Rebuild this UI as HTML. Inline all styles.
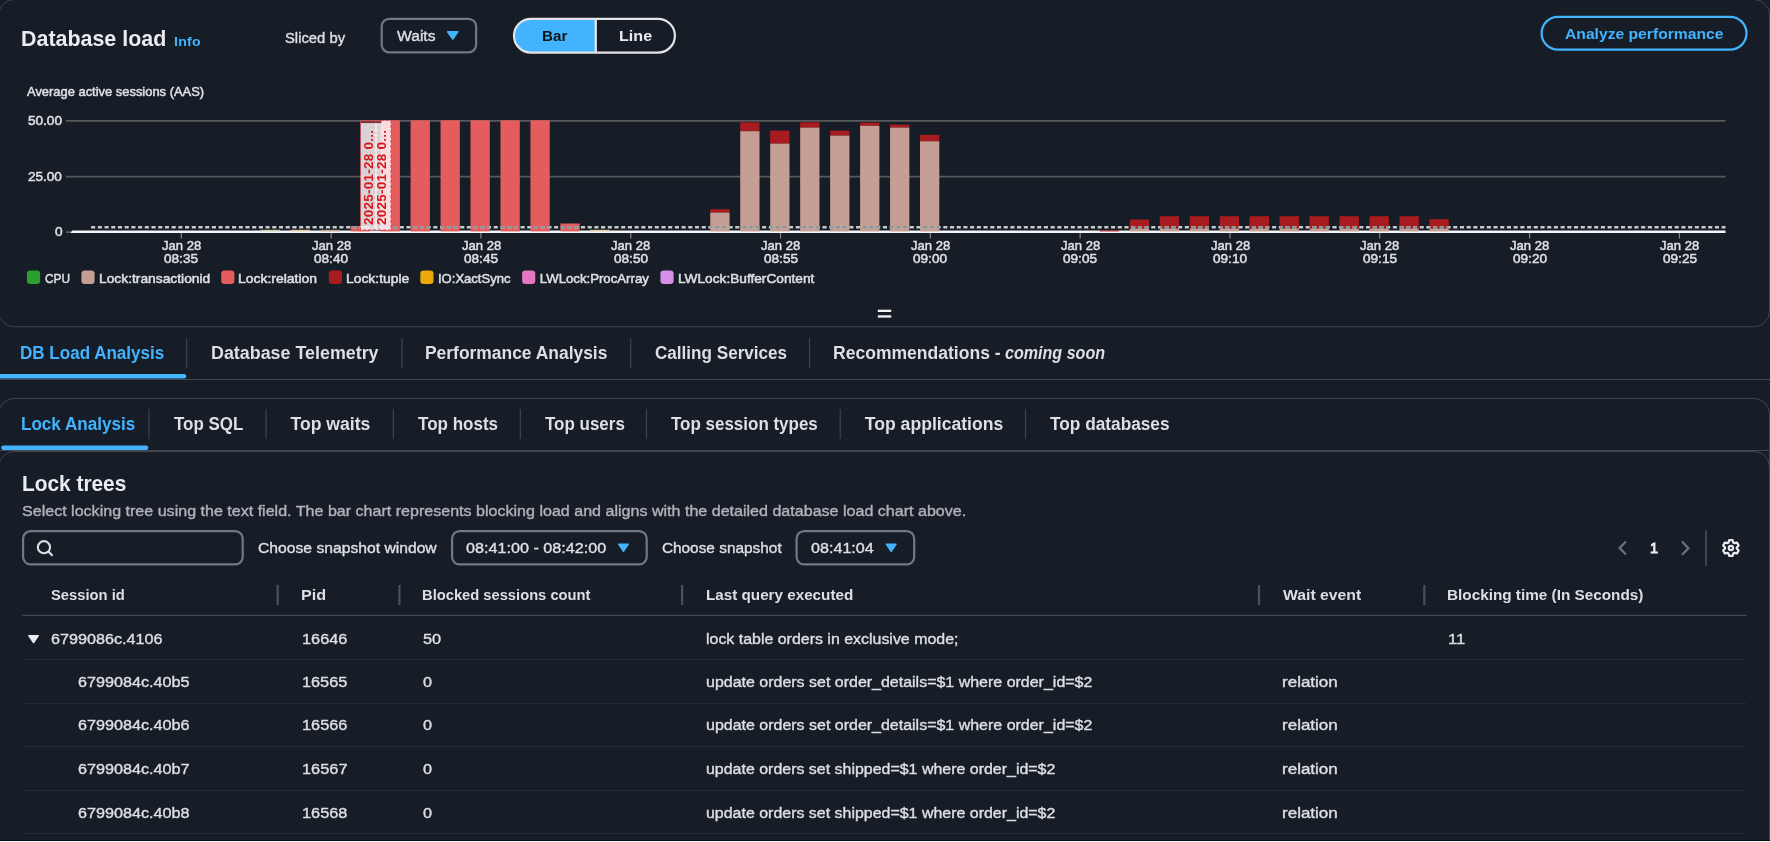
<!DOCTYPE html>
<html lang="en"><head><meta charset="utf-8"><title>Database load</title>
<style>
html,body{margin:0;padding:0}
body{width:1770px;height:842px;overflow:hidden;background:#161d26;font-family:"Liberation Sans", sans-serif;position:relative;color:#dedee3}
.t{position:absolute;white-space:pre;line-height:1;transform-origin:0 50%;-webkit-text-stroke:0.4px currentColor}
.cl{-webkit-text-stroke:0.55px currentColor}
.abs{position:absolute}
.g{display:contents}
.textlayer{position:absolute;left:0;top:0;width:1770px;height:842px;will-change:transform}
.box{position:absolute;box-sizing:border-box;border-radius:16px}
.chart{position:absolute;left:0;top:0}
.rot{transform-origin:0 0;transform:rotate(-90deg);font-size:13.5px;font-weight:700;color:#d9151c;letter-spacing:0.25px;-webkit-text-stroke:0}
</style></head><body>
<section class="box" style="left:-1px;top:-1px;width:1771px;height:328px"></section>
<section class="box" style="left:-1px;top:398px;width:1771px;height:500px"></section>
<section class="box" style="left:-1px;top:451px;width:1771px;height:500px"></section>
<svg class="chart" width="1770" height="330" viewBox="0 0 1770 330"><line x1="66" x2="1725.5" y1="120.9" y2="120.9" stroke="#58595b" stroke-width="1.7"/>
<line x1="66" x2="1725.5" y1="176.6" y2="176.6" stroke="#58595b" stroke-width="1.7"/>
<line x1="66" x2="1725.5" y1="232.2" y2="232.2" stroke="#58595b" stroke-width="1.7"/>
<line x1="181.30" x2="181.30" y1="232" y2="238.5" stroke="#858587" stroke-width="1.2"/>
<line x1="331.11" x2="331.11" y1="232" y2="238.5" stroke="#858587" stroke-width="1.2"/>
<line x1="480.92" x2="480.92" y1="232" y2="238.5" stroke="#858587" stroke-width="1.2"/>
<line x1="630.73" x2="630.73" y1="232" y2="238.5" stroke="#858587" stroke-width="1.2"/>
<line x1="780.54" x2="780.54" y1="232" y2="238.5" stroke="#858587" stroke-width="1.2"/>
<line x1="930.35" x2="930.35" y1="232" y2="238.5" stroke="#858587" stroke-width="1.2"/>
<line x1="1080.16" x2="1080.16" y1="232" y2="238.5" stroke="#858587" stroke-width="1.2"/>
<line x1="1229.97" x2="1229.97" y1="232" y2="238.5" stroke="#858587" stroke-width="1.2"/>
<line x1="1379.78" x2="1379.78" y1="232" y2="238.5" stroke="#858587" stroke-width="1.2"/>
<line x1="1529.59" x2="1529.59" y1="232" y2="238.5" stroke="#858587" stroke-width="1.2"/>
<line x1="1679.40" x2="1679.40" y1="232" y2="238.5" stroke="#858587" stroke-width="1.2"/>
<path d="M70.3 233 L72.3 230.4 L1725.5 230.4 L1725.5 233 Z" fill="#f4f4f4"/>
<rect x="350.65" y="226.00" width="19.30" height="5.40" fill="#e45c5d" />
<rect x="380.62" y="120.30" width="19.30" height="111.10" fill="#e45c5d" />
<rect x="410.59" y="120.30" width="19.30" height="111.10" fill="#e45c5d" />
<rect x="440.55" y="120.30" width="19.30" height="111.10" fill="#e45c5d" />
<rect x="470.52" y="120.30" width="19.30" height="111.10" fill="#e45c5d" />
<rect x="500.49" y="120.30" width="19.30" height="111.10" fill="#e45c5d" />
<rect x="530.45" y="120.30" width="19.30" height="111.10" fill="#e45c5d" />
<rect x="560.42" y="223.50" width="19.30" height="7.90" fill="#e45c5d" />
<rect x="590.39" y="229.80" width="19.30" height="1.60" fill="#e3cba3" />
<rect x="260.75" y="229.80" width="19.30" height="1.60" fill="#c3d3ac" />
<rect x="290.72" y="229.80" width="19.30" height="1.60" fill="#e3cba3" />
<rect x="320.69" y="229.80" width="19.30" height="1.60" fill="#c4a688" />
<rect x="710.26" y="209.20" width="19.30" height="3.40" fill="#a81b1e" />
<rect x="710.26" y="212.60" width="19.30" height="18.80" fill="#c59e94" />
<rect x="740.22" y="122.30" width="19.30" height="8.90" fill="#a81b1e" />
<rect x="740.22" y="131.20" width="19.30" height="100.20" fill="#c59e94" />
<rect x="770.19" y="130.60" width="19.30" height="13.00" fill="#a81b1e" />
<rect x="770.19" y="143.60" width="19.30" height="87.80" fill="#c59e94" />
<rect x="800.16" y="122.30" width="19.30" height="5.30" fill="#a81b1e" />
<rect x="800.16" y="127.60" width="19.30" height="103.80" fill="#c59e94" />
<rect x="830.12" y="130.60" width="19.30" height="5.00" fill="#a81b1e" />
<rect x="830.12" y="135.60" width="19.30" height="95.80" fill="#c59e94" />
<rect x="860.09" y="122.60" width="19.30" height="3.20" fill="#a81b1e" />
<rect x="860.09" y="125.80" width="19.30" height="105.60" fill="#c59e94" />
<rect x="890.06" y="124.60" width="19.30" height="3.00" fill="#a81b1e" />
<rect x="890.06" y="127.60" width="19.30" height="103.80" fill="#c59e94" />
<rect x="920.02" y="134.90" width="19.30" height="6.40" fill="#a81b1e" />
<rect x="920.02" y="141.30" width="19.30" height="90.10" fill="#c59e94" />
<rect x="1099.83" y="230.30" width="19.30" height="1.10" fill="#a81b1e" />
<rect x="1129.79" y="219.50" width="19.30" height="9.10" fill="#a81b1e" />
<rect x="1129.79" y="228.60" width="19.30" height="2.80" fill="#c59e94" />
<rect x="1159.76" y="216.20" width="19.30" height="12.40" fill="#a81b1e" />
<rect x="1159.76" y="228.60" width="19.30" height="2.80" fill="#c59e94" />
<rect x="1189.73" y="216.20" width="19.30" height="12.40" fill="#a81b1e" />
<rect x="1189.73" y="228.60" width="19.30" height="2.80" fill="#c59e94" />
<rect x="1219.69" y="216.20" width="19.30" height="12.40" fill="#a81b1e" />
<rect x="1219.69" y="228.60" width="19.30" height="2.80" fill="#c59e94" />
<rect x="1249.66" y="216.20" width="19.30" height="12.40" fill="#a81b1e" />
<rect x="1249.66" y="228.60" width="19.30" height="2.80" fill="#c59e94" />
<rect x="1279.63" y="216.20" width="19.30" height="12.40" fill="#a81b1e" />
<rect x="1279.63" y="228.60" width="19.30" height="2.80" fill="#c59e94" />
<rect x="1309.60" y="216.20" width="19.30" height="12.40" fill="#a81b1e" />
<rect x="1309.60" y="228.60" width="19.30" height="2.80" fill="#c59e94" />
<rect x="1339.56" y="216.20" width="19.30" height="12.40" fill="#a81b1e" />
<rect x="1339.56" y="228.60" width="19.30" height="2.80" fill="#c59e94" />
<rect x="1369.53" y="216.20" width="19.30" height="12.40" fill="#a81b1e" />
<rect x="1369.53" y="228.60" width="19.30" height="2.80" fill="#c59e94" />
<rect x="1399.50" y="216.20" width="19.30" height="12.40" fill="#a81b1e" />
<rect x="1399.50" y="228.60" width="19.30" height="2.80" fill="#c59e94" />
<rect x="1429.46" y="219.20" width="19.30" height="9.40" fill="#a81b1e" />
<rect x="1429.46" y="228.60" width="19.30" height="2.80" fill="#c59e94" />
<line x1="91.1" x2="1725.5" y1="227.25" y2="227.25" stroke="#c8c8c8" stroke-width="2.4" stroke-dasharray="4.1 2.61"/>
<clipPath id="barclip"><rect x="350.65" y="100" width="19.3" height="140"/><rect x="380.62" y="100" width="19.3" height="140"/><rect x="410.59" y="100" width="19.3" height="140"/><rect x="440.55" y="100" width="19.3" height="140"/><rect x="470.52" y="100" width="19.3" height="140"/><rect x="500.49" y="100" width="19.3" height="140"/><rect x="530.45" y="100" width="19.3" height="140"/><rect x="560.42" y="100" width="19.3" height="140"/><rect x="710.26" y="100" width="19.3" height="140"/><rect x="740.22" y="100" width="19.3" height="140"/><rect x="770.19" y="100" width="19.3" height="140"/><rect x="800.16" y="100" width="19.3" height="140"/><rect x="830.12" y="100" width="19.3" height="140"/><rect x="860.09" y="100" width="19.3" height="140"/><rect x="890.06" y="100" width="19.3" height="140"/><rect x="920.02" y="100" width="19.3" height="140"/><rect x="1129.79" y="100" width="19.3" height="140"/><rect x="1159.76" y="100" width="19.3" height="140"/><rect x="1189.73" y="100" width="19.3" height="140"/><rect x="1219.69" y="100" width="19.3" height="140"/><rect x="1249.66" y="100" width="19.3" height="140"/><rect x="1279.63" y="100" width="19.3" height="140"/><rect x="1309.60" y="100" width="19.3" height="140"/><rect x="1339.56" y="100" width="19.3" height="140"/><rect x="1369.53" y="100" width="19.3" height="140"/><rect x="1399.50" y="100" width="19.3" height="140"/><rect x="1429.46" y="100" width="19.3" height="140"/></clipPath>
<line x1="91.1" x2="1725.5" y1="227.25" y2="227.25" stroke="#87999a" stroke-width="2.4" stroke-dasharray="4.1 2.61" clip-path="url(#barclip)"/>
<rect x="360.50" y="120.50" width="30.50" height="109.50" fill="rgba(255,246,249,0.84)" />
<rect x="374.40" y="120.50" width="3.20" height="109.50" fill="rgba(255,255,255,0.5)" />
<rect x="360.50" y="120.50" width="20.80" height="2.60" fill="rgba(110,25,35,0.85)" />
<rect x="360.5" y="120.5" width="30.5" height="109.5" fill="none" stroke="#e0474c" stroke-width="1" stroke-dasharray="3 2"/>
<path d="M374.5 121V230M377.5 121V230" fill="none" stroke="#e0474c" stroke-opacity="0.25" stroke-width="1" stroke-dasharray="3 2"/>
<rect x="26.9" y="270.6" width="13.2" height="13.4" rx="3.3" fill="#2ca02c"/>
<rect x="81.4" y="270.6" width="13.2" height="13.4" rx="3.3" fill="#c59e94"/>
<rect x="221.2" y="270.6" width="13.2" height="13.4" rx="3.3" fill="#e45c5d"/>
<rect x="328.8" y="270.6" width="13.2" height="13.4" rx="3.3" fill="#a81b1e"/>
<rect x="420.3" y="270.6" width="13.2" height="13.4" rx="3.3" fill="#eda80a"/>
<rect x="522.1" y="270.6" width="13.2" height="13.4" rx="3.3" fill="#e377c2"/>
<rect x="660.4" y="270.6" width="13.2" height="13.4" rx="3.3" fill="#d590e8"/>
<rect x="877.8" y="309.7" width="13.4" height="2.3" fill="#f4f4f6"/><rect x="877.8" y="315.3" width="13.4" height="2.3" fill="#f4f4f6"/></svg>
<svg class="chart" width="1770" height="842" viewBox="0 0 1770 842"><rect x="-1.25" y="-0.5" width="1770.75" height="327.3" rx="15.5" fill="none" stroke="#424650" stroke-width="1"/>
<rect x="-1.25" y="398.4" width="1770.75" height="501.6" rx="15.5" fill="none" stroke="#424650" stroke-width="1"/>
<rect x="-1.25" y="451.5" width="1770.75" height="448.5" rx="15.5" fill="none" stroke="#424650" stroke-width="1"/>
<rect x="381.70" y="18.90" width="94.40" height="33.40" rx="7.5" fill="none" stroke="#747886" stroke-width="2.2" />
<path d="M447.65 31.85 L457.85 31.85 L452.75 39.15 Z" fill="#42b4ff" stroke="#42b4ff" stroke-width="1.5" stroke-linejoin="round"/>
<clipPath id="segclip"><rect x="514" y="18.8" width="160.9" height="33.8" rx="16.9"/></clipPath>
<rect x="514" y="18.8" width="81.7" height="33.8" fill="#42b4ff" clip-path="url(#segclip)"/>
<rect x="594.6" y="18.8" width="2.3" height="33.8" fill="#e6e3e8"/>
<rect x="514.00" y="18.80" width="160.90" height="33.80" rx="16.9" fill="none" stroke="#e6e3e8" stroke-width="2.2" />
<rect x="1541.60" y="16.80" width="204.90" height="32.90" rx="16.45" fill="none" stroke="#42b4ff" stroke-width="2.2" />
<rect x="0" y="379" width="1770" height="1" fill="#424650"/>
<path d="M0 374 H184 a2.3 2.3 0 0 1 0 4.6 H0 Z" fill="#42b4ff"/>
<rect x="186.15" y="338" width="1.1" height="30" fill="#424650"/>
<rect x="401.45" y="338" width="1.1" height="30" fill="#424650"/>
<rect x="630.25" y="338" width="1.1" height="30" fill="#424650"/>
<rect x="808.95" y="338" width="1.1" height="30" fill="#424650"/>
<rect x="0" y="450" width="1770" height="1" fill="#424650"/>
<rect x="1.2" y="445.4" width="147.1" height="4.6" rx="2.3" fill="#42b4ff"/>
<rect x="148.45" y="409" width="1.1" height="30" fill="#424650"/>
<rect x="265.55" y="409" width="1.1" height="30" fill="#424650"/>
<rect x="392.65" y="409" width="1.1" height="30" fill="#424650"/>
<rect x="519.75" y="409" width="1.1" height="30" fill="#424650"/>
<rect x="645.95" y="409" width="1.1" height="30" fill="#424650"/>
<rect x="839.65" y="409" width="1.1" height="30" fill="#424650"/>
<rect x="1024.95" y="409" width="1.1" height="30" fill="#424650"/>
<rect x="23.10" y="531.10" width="219.60" height="33.30" rx="7.5" fill="none" stroke="#747886" stroke-width="2.2" />
<circle cx="43.95" cy="547.2" r="6.1" fill="none" stroke="#dedee3" stroke-width="2.1"/><path d="M48.4 551.6 L52.6 555.8" stroke="#dedee3" stroke-width="2.1" stroke-linecap="butt"/>
<rect x="452.10" y="531.10" width="194.60" height="33.30" rx="7.5" fill="none" stroke="#747886" stroke-width="2.2" />
<path d="M618.65 544.15 L628.25 544.15 L623.45 551.45 Z" fill="#42b4ff" stroke="#42b4ff" stroke-width="1.5" stroke-linejoin="round"/>
<rect x="796.60" y="531.10" width="117.60" height="33.30" rx="7.5" fill="none" stroke="#747886" stroke-width="2.2" />
<path d="M886.35 544.15 L896.05 544.15 L891.20 551.45 Z" fill="#42b4ff" stroke="#42b4ff" stroke-width="1.5" stroke-linejoin="round"/>
<path d="M1626.0 541.4 L1619.6 548.0 L1626.0 554.6" fill="none" stroke="#6e7180" stroke-width="2.2"/>
<path d="M1682.0 541.6 L1688.4 548.2 L1682.0 554.8" fill="none" stroke="#6e7180" stroke-width="2.2"/>
<rect x="1705.2" y="530.3" width="1.6" height="35.6" fill="#4b505f"/>
<path d="M1728.45 542.63 L1729.21 540.03 L1732.59 540.03 L1733.35 542.63 L1734.33 543.20 L1736.96 542.55 L1738.65 545.48 L1736.77 547.43 L1736.77 548.57 L1738.65 550.52 L1736.96 553.45 L1734.33 552.80 L1733.35 553.37 L1732.59 555.97 L1729.21 555.97 L1728.45 553.37 L1727.47 552.80 L1724.84 553.45 L1723.15 550.52 L1725.03 548.57 L1725.03 547.43 L1723.15 545.48 L1724.84 542.55 L1727.47 543.20 Z" fill="none" stroke="#ebebf0" stroke-width="2.25" stroke-linejoin="round"/>
<circle cx="1730.9" cy="548.0" r="2.15" fill="none" stroke="#ebebf0" stroke-width="2.1"/>
<rect x="276.55" y="585" width="2.2" height="20" fill="#4b4f60"/>
<rect x="398.30" y="585" width="2.2" height="20" fill="#4b4f60"/>
<rect x="681.00" y="585" width="2.2" height="20" fill="#4b4f60"/>
<rect x="1257.90" y="585" width="2.2" height="20" fill="#4b4f60"/>
<rect x="1423.20" y="585" width="2.2" height="20" fill="#4b4f60"/>
<rect x="22.3" y="614.7" width="1724.2" height="1.4" fill="#464a58"/>
<rect x="22.3" y="659" width="1724.2" height="1" fill="#232b37"/>
<rect x="22.3" y="703" width="1724.2" height="1" fill="#232b37"/>
<rect x="22.3" y="746" width="1724.2" height="1" fill="#232b37"/>
<rect x="22.3" y="790" width="1724.2" height="1" fill="#232b37"/>
<rect x="22.3" y="833" width="1724.2" height="1" fill="#232b37"/>
<path d="M28.85 635.65 L38.25 635.65 L33.55 642.55 Z" fill="#ebebf0" stroke="#ebebf0" stroke-width="1.5" stroke-linejoin="round"/></svg>
<main class="textlayer"><header class="g" aria-label="Database load header">
<span class="t" style="left:20.65px;top:28px;font-size:22px;font-weight:700;-webkit-text-stroke:0;color:#ebebf0;transform:scaleX(0.9740);">Database load</span>
<span class="t" style="left:173.93px;top:36px;font-size:12.2px;font-weight:700;-webkit-text-stroke:0;color:#42b4ff;letter-spacing:0.216px;transform:scaleX(1.1600);">Info</span>
<span class="t" style="left:285.08px;top:30px;font-size:15.4px;color:#dedee3;transform:scaleX(0.9612);">Sliced by</span>
<span class="t" style="left:396.60px;top:28px;font-size:15.4px;color:#dedee3;transform:scaleX(1.0170);">Waits</span>
<span class="t" style="left:542.11px;top:28px;font-size:15.4px;font-weight:700;-webkit-text-stroke:0;color:#0f141a;transform:scaleX(0.9885);">Bar</span>
<span class="t" style="left:618.75px;top:28px;font-size:15.4px;font-weight:700;-webkit-text-stroke:0;color:#ebebf0;transform:scaleX(1.0467);">Line</span>
<span class="t" style="left:1564.76px;top:26px;font-size:15.4px;font-weight:700;-webkit-text-stroke:0;color:#42b4ff;transform:scaleX(1.0177);">Analyze performance</span>
</header>
<figure class="g" aria-label="Average active sessions chart">
<span class="t cl" style="left:27.17px;top:85px;font-size:13.2px;color:#dedee3;transform:scaleX(0.9794);">Average active sessions (AAS)</span>
<span class="t cl" style="left:28.38px;top:114px;font-size:13.2px;color:#dedee3;transform:scaleX(1.0280);">50.00</span>
<span class="t cl" style="left:28.40px;top:170px;font-size:13.2px;color:#dedee3;transform:scaleX(1.0273);">25.00</span>
<span class="t cl" style="left:54.70px;top:225px;font-size:13.2px;color:#dedee3;transform:scaleX(1.0392);">0</span>
<span class="t cl" style="left:161.90px;top:239px;font-size:13.2px;color:#dedee3;transform:scaleX(0.9894);">Jan 28</span>
<span class="t cl" style="left:164.40px;top:252px;font-size:13.2px;color:#dedee3;transform:scaleX(1.0303);">08:35</span>
<span class="t cl" style="left:311.71px;top:239px;font-size:13.2px;color:#dedee3;transform:scaleX(0.9894);">Jan 28</span>
<span class="t cl" style="left:314.21px;top:252px;font-size:13.2px;color:#dedee3;transform:scaleX(1.0303);">08:40</span>
<span class="t cl" style="left:461.52px;top:239px;font-size:13.2px;color:#dedee3;transform:scaleX(0.9894);">Jan 28</span>
<span class="t cl" style="left:464.02px;top:252px;font-size:13.2px;color:#dedee3;transform:scaleX(1.0303);">08:45</span>
<span class="t cl" style="left:611.33px;top:239px;font-size:13.2px;color:#dedee3;transform:scaleX(0.9894);">Jan 28</span>
<span class="t cl" style="left:613.83px;top:252px;font-size:13.2px;color:#dedee3;transform:scaleX(1.0303);">08:50</span>
<span class="t cl" style="left:761.14px;top:239px;font-size:13.2px;color:#dedee3;transform:scaleX(0.9894);">Jan 28</span>
<span class="t cl" style="left:763.64px;top:252px;font-size:13.2px;color:#dedee3;transform:scaleX(1.0303);">08:55</span>
<span class="t cl" style="left:910.95px;top:239px;font-size:13.2px;color:#dedee3;transform:scaleX(0.9894);">Jan 28</span>
<span class="t cl" style="left:913.45px;top:252px;font-size:13.2px;color:#dedee3;transform:scaleX(1.0303);">09:00</span>
<span class="t cl" style="left:1060.76px;top:239px;font-size:13.2px;color:#dedee3;transform:scaleX(0.9894);">Jan 28</span>
<span class="t cl" style="left:1063.26px;top:252px;font-size:13.2px;color:#dedee3;transform:scaleX(1.0303);">09:05</span>
<span class="t cl" style="left:1210.57px;top:239px;font-size:13.2px;color:#dedee3;transform:scaleX(0.9894);">Jan 28</span>
<span class="t cl" style="left:1213.07px;top:252px;font-size:13.2px;color:#dedee3;transform:scaleX(1.0303);">09:10</span>
<span class="t cl" style="left:1360.38px;top:239px;font-size:13.2px;color:#dedee3;transform:scaleX(0.9894);">Jan 28</span>
<span class="t cl" style="left:1362.88px;top:252px;font-size:13.2px;color:#dedee3;transform:scaleX(1.0303);">09:15</span>
<span class="t cl" style="left:1510.19px;top:239px;font-size:13.2px;color:#dedee3;transform:scaleX(0.9894);">Jan 28</span>
<span class="t cl" style="left:1512.69px;top:252px;font-size:13.2px;color:#dedee3;transform:scaleX(1.0303);">09:20</span>
<span class="t cl" style="left:1660.00px;top:239px;font-size:13.2px;color:#dedee3;transform:scaleX(0.9894);">Jan 28</span>
<span class="t cl" style="left:1662.50px;top:252px;font-size:13.2px;color:#dedee3;transform:scaleX(1.0303);">09:25</span>
<span class="t cl" style="left:45.20px;top:272px;font-size:13.2px;color:#dedee3;letter-spacing:-0.056px;transform:scaleX(0.9000);">CPU</span>
<span class="t cl" style="left:99.03px;top:272px;font-size:13.2px;color:#dedee3;transform:scaleX(1.0469);">Lock:transactionid</span>
<span class="t cl" style="left:238.32px;top:272px;font-size:13.2px;color:#dedee3;transform:scaleX(1.0569);">Lock:relation</span>
<span class="t cl" style="left:346.32px;top:272px;font-size:13.2px;color:#dedee3;transform:scaleX(1.0513);">Lock:tuple</span>
<span class="t cl" style="left:437.93px;top:272px;font-size:13.2px;color:#dedee3;transform:scaleX(0.9881);">IO:XactSync</span>
<span class="t cl" style="left:539.86px;top:272px;font-size:13.2px;color:#dedee3;">LWLock:ProcArray</span>
<span class="t cl" style="left:678.03px;top:272px;font-size:13.2px;color:#dedee3;transform:scaleX(1.0369);">LWLock:BufferContent</span>
</figure>
<nav class="g" aria-label="Analysis tabs">
<span class="t" style="left:20.33px;top:345px;font-size:17.6px;font-weight:700;-webkit-text-stroke:0;color:#42b4ff;transform:scaleX(0.9686);">DB Load Analysis</span>
<span class="t" style="left:210.78px;top:345px;font-size:17.6px;font-weight:700;-webkit-text-stroke:0;color:#dedee3;transform:scaleX(1.0159);">Database Telemetry</span>
<span class="t" style="left:425.11px;top:345px;font-size:17.6px;font-weight:700;-webkit-text-stroke:0;color:#dedee3;transform:scaleX(0.9903);">Performance Analysis</span>
<span class="t" style="left:654.76px;top:345px;font-size:17.6px;font-weight:700;-webkit-text-stroke:0;color:#dedee3;transform:scaleX(0.9720);">Calling Services</span>
<span class="t" style="left:833.20px;top:345px;font-size:17.6px;font-weight:700;-webkit-text-stroke:0;color:#dedee3;transform:scaleX(0.9967);">Recommendations -</span>
<span class="t" style="left:1005.08px;top:345px;font-size:17.6px;font-weight:700;-webkit-text-stroke:0;font-style:italic;color:#dedee3;transform:scaleX(0.9140);">coming soon</span>
</nav>
<nav class="g" aria-label="Lock analysis tabs">
<span class="t" style="left:21.43px;top:416px;font-size:17.6px;font-weight:700;-webkit-text-stroke:0;color:#42b4ff;transform:scaleX(0.9707);">Lock Analysis</span>
<span class="t" style="left:173.60px;top:416px;font-size:17.6px;font-weight:700;-webkit-text-stroke:0;color:#dedee3;transform:scaleX(0.9635);">Top SQL</span>
<span class="t" style="left:290.50px;top:416px;font-size:17.6px;font-weight:700;-webkit-text-stroke:0;color:#dedee3;">Top waits</span>
<span class="t" style="left:417.60px;top:416px;font-size:17.6px;font-weight:700;-webkit-text-stroke:0;color:#dedee3;transform:scaleX(0.9671);">Top hosts</span>
<span class="t" style="left:544.70px;top:416px;font-size:17.6px;font-weight:700;-webkit-text-stroke:0;color:#dedee3;transform:scaleX(0.9646);">Top users</span>
<span class="t" style="left:671.10px;top:416px;font-size:17.6px;font-weight:700;-webkit-text-stroke:0;color:#dedee3;transform:scaleX(0.9646);">Top session types</span>
<span class="t" style="left:864.80px;top:416px;font-size:17.6px;font-weight:700;-webkit-text-stroke:0;color:#dedee3;">Top applications</span>
<span class="t" style="left:1050.40px;top:416px;font-size:17.6px;font-weight:700;-webkit-text-stroke:0;color:#dedee3;transform:scaleX(0.9810);">Top databases</span>
</nav>
<section class="g" aria-label="Lock trees">
<span class="t" style="left:22.08px;top:473px;font-size:22px;font-weight:700;-webkit-text-stroke:0;color:#ebebf0;transform:scaleX(0.9478);">Lock trees</span>
<span class="t" style="left:22.36px;top:503px;font-size:15.4px;color:#b2b0ba;transform:scaleX(1.0434);">Select locking tree using the text field. The bar chart represents blocking load and aligns with the detailed database load chart above.</span>
<span class="t" style="left:257.78px;top:540px;font-size:15.4px;color:#dedee3;transform:scaleX(1.0188);">Choose snapshot window</span>
<span class="t" style="left:465.76px;top:540px;font-size:15.4px;color:#dedee3;transform:scaleX(1.0514);">08:41:00 - 08:42:00</span>
<span class="t" style="left:661.89px;top:540px;font-size:15.4px;color:#dedee3;">Choose snapshot</span>
<span class="t" style="left:810.56px;top:540px;font-size:15.4px;color:#dedee3;transform:scaleX(1.0475);">08:41:04</span>
<span class="t" style="left:1649.83px;top:540px;font-size:15.4px;color:#ebebf0;transform:scaleX(0.9500);-webkit-text-stroke:0.9px currentColor;">1</span>
</section>
<div class="g" aria-label="Lock trees table header">
<span class="t" style="left:51.14px;top:587px;font-size:15.4px;font-weight:700;-webkit-text-stroke:0;color:#dedee3;transform:scaleX(0.9587);">Session id</span>
<span class="t" style="left:300.95px;top:587px;font-size:15.4px;font-weight:700;-webkit-text-stroke:0;color:#dedee3;transform:scaleX(1.0500);">Pid</span>
<span class="t" style="left:421.74px;top:587px;font-size:15.4px;font-weight:700;-webkit-text-stroke:0;color:#dedee3;transform:scaleX(0.9560);">Blocked sessions count</span>
<span class="t" style="left:705.61px;top:587px;font-size:15.4px;font-weight:700;-webkit-text-stroke:0;color:#dedee3;transform:scaleX(0.9891);">Last query executed</span>
<span class="t" style="left:1283.00px;top:587px;font-size:15.4px;font-weight:700;-webkit-text-stroke:0;color:#dedee3;transform:scaleX(1.0226);">Wait event</span>
<span class="t" style="left:1447.01px;top:587px;font-size:15.4px;font-weight:700;-webkit-text-stroke:0;color:#dedee3;transform:scaleX(0.9939);">Blocking time (In Seconds)</span>
</div>
<div class="g" aria-label="Lock trees table rows">
<span class="t" style="left:51.40px;top:631px;font-size:15.4px;color:#dedee3;transform:scaleX(1.0515);">6799086c.4106</span>
<span class="t" style="left:301.84px;top:631px;font-size:15.4px;color:#dedee3;transform:scaleX(1.0596);">16646</span>
<span class="t" style="left:422.50px;top:631px;font-size:15.4px;color:#dedee3;transform:scaleX(1.0591);">50</span>
<span class="t" style="left:705.69px;top:631px;font-size:15.4px;color:#dedee3;transform:scaleX(1.0354);">lock table orders in exclusive mode;</span>
<span class="t" style="left:1447.52px;top:631px;font-size:15.4px;color:#dedee3;transform:scaleX(1.0769);">11</span>
<span class="t" style="left:77.80px;top:674px;font-size:15.4px;color:#dedee3;transform:scaleX(1.0514);">6799084c.40b5</span>
<span class="t" style="left:301.84px;top:674px;font-size:15.4px;color:#dedee3;transform:scaleX(1.0587);">16565</span>
<span class="t" style="left:422.86px;top:674px;font-size:15.4px;color:#dedee3;transform:scaleX(1.0548);">0</span>
<span class="t" style="left:705.74px;top:674px;font-size:15.4px;color:#dedee3;transform:scaleX(1.0381);">update orders set order_details=$1 where order_id=$2</span>
<span class="t" style="left:1282.23px;top:674px;font-size:15.4px;color:#dedee3;transform:scaleX(1.1053);">relation</span>
<span class="t" style="left:77.80px;top:717px;font-size:15.4px;color:#dedee3;transform:scaleX(1.0515);">6799084c.40b6</span>
<span class="t" style="left:301.84px;top:717px;font-size:15.4px;color:#dedee3;transform:scaleX(1.0596);">16566</span>
<span class="t" style="left:422.86px;top:717px;font-size:15.4px;color:#dedee3;transform:scaleX(1.0548);">0</span>
<span class="t" style="left:705.74px;top:717px;font-size:15.4px;color:#dedee3;transform:scaleX(1.0381);">update orders set order_details=$1 where order_id=$2</span>
<span class="t" style="left:1282.23px;top:717px;font-size:15.4px;color:#dedee3;transform:scaleX(1.1053);">relation</span>
<span class="t" style="left:77.80px;top:761px;font-size:15.4px;color:#dedee3;transform:scaleX(1.0517);">6799084c.40b7</span>
<span class="t" style="left:301.84px;top:761px;font-size:15.4px;color:#dedee3;transform:scaleX(1.0639);">16567</span>
<span class="t" style="left:422.86px;top:761px;font-size:15.4px;color:#dedee3;transform:scaleX(1.0548);">0</span>
<span class="t" style="left:705.74px;top:761px;font-size:15.4px;color:#dedee3;transform:scaleX(1.0363);">update orders set shipped=$1 where order_id=$2</span>
<span class="t" style="left:1282.23px;top:761px;font-size:15.4px;color:#dedee3;transform:scaleX(1.1053);">relation</span>
<span class="t" style="left:77.80px;top:805px;font-size:15.4px;color:#dedee3;transform:scaleX(1.0514);">6799084c.40b8</span>
<span class="t" style="left:301.84px;top:805px;font-size:15.4px;color:#dedee3;transform:scaleX(1.0620);">16568</span>
<span class="t" style="left:422.86px;top:805px;font-size:15.4px;color:#dedee3;transform:scaleX(1.0548);">0</span>
<span class="t" style="left:705.74px;top:805px;font-size:15.4px;color:#dedee3;transform:scaleX(1.0363);">update orders set shipped=$1 where order_id=$2</span>
<span class="t" style="left:1282.23px;top:805px;font-size:15.4px;color:#dedee3;transform:scaleX(1.1053);">relation</span>
</div>

<div class="g" aria-label="Chart annotations"><span class="t rot" style="left:361.60px;top:225.4px;">2025-01-28 0...</span>
<span class="t rot" style="left:375.30px;top:225.4px;">2025-01-28 0...</span></div></main>
<div class="abs" style="left:0;top:840px;width:1770px;height:1px;background:#040c17"></div>
<div class="abs" style="left:0;top:841px;width:1770px;height:1px;background:#f4f4f4"></div>
</body></html>
